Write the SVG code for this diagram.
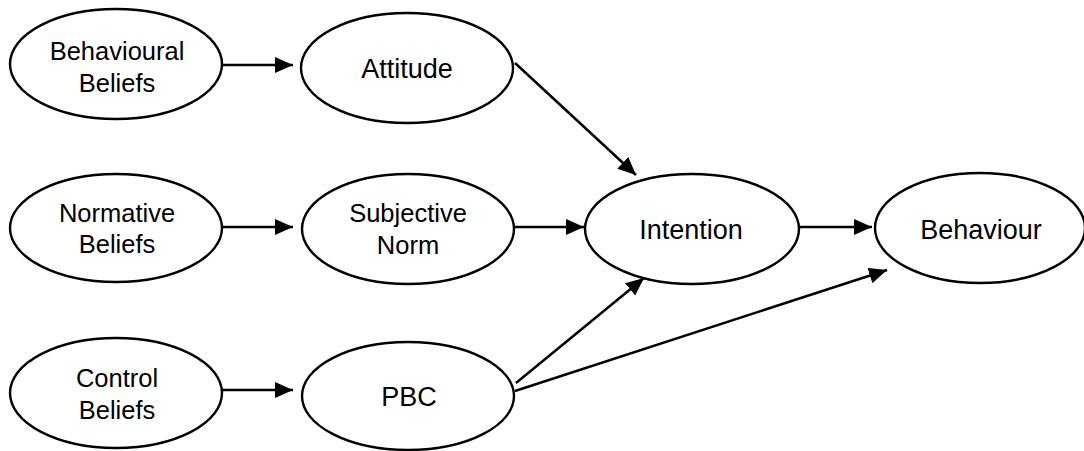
<svg xmlns="http://www.w3.org/2000/svg" width="1084" height="451" viewBox="0 0 1084 451">
<style>
  .node ellipse { fill: #ffffff; stroke: #000000; stroke-width: 2.4; }
  .node text { font-family: "Liberation Sans", Arial, sans-serif; font-size: 25.5px; fill: #000000; text-anchor: middle; }
  .node text.single { font-size: 27px; }
  .edges line { stroke: #000000; stroke-width: 2.5; }
</style>
<defs>
  <marker id="arrow" markerUnits="userSpaceOnUse" markerWidth="19" markerHeight="17" refX="18" refY="8" orient="auto">
    <path d="M0,0 L18,8 L0,16 z" fill="#000000"/>
  </marker>
</defs>
<rect width="1084" height="451" fill="#ffffff"/>
<g class="edges">
  <line x1="223" y1="65" x2="293" y2="65" marker-end="url(#arrow)"/>
  <line x1="223" y1="227" x2="293" y2="227" marker-end="url(#arrow)"/>
  <line x1="222" y1="390" x2="293" y2="390" marker-end="url(#arrow)"/>
  <line x1="515" y1="63" x2="636" y2="175" marker-end="url(#arrow)"/>
  <line x1="515" y1="227" x2="584" y2="227" marker-end="url(#arrow)"/>
  <line x1="799" y1="227" x2="872" y2="227" marker-end="url(#arrow)"/>
  <line x1="516" y1="383" x2="644" y2="278" marker-end="url(#arrow)"/>
  <line x1="515" y1="391" x2="887" y2="270" marker-end="url(#arrow)"/>
</g>
<g id="behavioural-beliefs" class="node">
  <ellipse cx="116" cy="64" rx="106" ry="55"/>
  <text x="117" y="60">Behavioural</text>
  <text x="117" y="92">Beliefs</text>
</g>
<g id="attitude" class="node">
  <ellipse cx="407" cy="68" rx="106" ry="55"/>
  <text class="single" x="407" y="78">Attitude</text>
</g>
<g id="normative-beliefs" class="node">
  <ellipse cx="116" cy="228" rx="106" ry="54"/>
  <text x="117" y="222">Normative</text>
  <text x="117" y="253">Beliefs</text>
</g>
<g id="subjective-norm" class="node">
  <ellipse cx="408" cy="229" rx="106" ry="55"/>
  <text x="408" y="222">Subjective</text>
  <text x="408" y="254">Norm</text>
</g>
<g id="intention" class="node">
  <ellipse cx="692" cy="229" rx="107" ry="55"/>
  <text class="single" x="691" y="239">Intention</text>
</g>
<g id="behaviour" class="node">
  <ellipse cx="980" cy="228" rx="105" ry="55"/>
  <text class="single" x="981" y="239">Behaviour</text>
</g>
<g id="control-beliefs" class="node">
  <ellipse cx="116" cy="393" rx="106" ry="55"/>
  <text x="117" y="387">Control</text>
  <text x="117" y="419">Beliefs</text>
</g>
<g id="pbc" class="node">
  <ellipse cx="408" cy="396" rx="106" ry="54"/>
  <text class="single" x="409" y="406">PBC</text>
</g>
</svg>
